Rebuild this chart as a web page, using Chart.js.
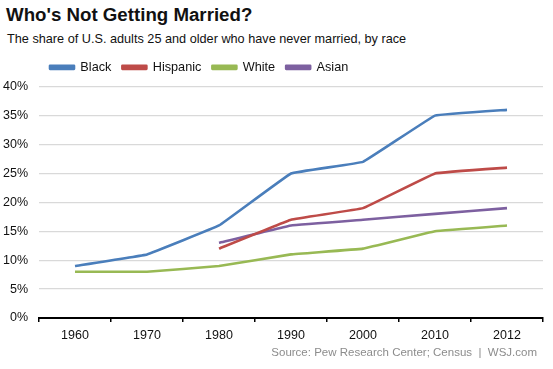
<!DOCTYPE html>
<html><head><meta charset="utf-8">
<script src="https://cdn.jsdelivr.net/npm/chart.js@4"></script>
<style>
html,body{margin:0;padding:0;background:#fff;}
#wrap{position:relative;width:553px;height:369px;overflow:hidden;font-family:"Liberation Sans",Arial,sans-serif;}
#title{position:absolute;left:6px;top:4px;font-size:18.7px;font-weight:bold;color:#111;white-space:nowrap;}
#sub{position:absolute;left:7px;top:32px;font-size:12.7px;color:#111;white-space:nowrap;}
#src{position:absolute;right:16px;top:346px;font-size:11.5px;color:#8c8c8c;white-space:nowrap;}
canvas{position:absolute;left:0;top:0;}
</style></head>
<body><div id="wrap">
<div id="title">Who's Not Getting Married?</div>
<div id="sub">The share of U.S. adults 25 and older who have never married, by race</div>
<canvas id="c" width="553" height="369"></canvas>
<div id="src">Source: Pew Research Center; Census &nbsp;|&nbsp; WSJ.com</div>
</div>
<script>
const years = ['1960','1970','1980','1990','2000','2010','2012'];
const black = [9, 11, 16, 25, 27, 35, 36];
const hispanic = [null, null, 12, 17, 19, 25, 26];
const white = [8, 8, 9, 11, 12, 15, 16];
const asian = [null, null, 13, 16, 17, 18, 19];
const seriesNames = ['Black','Hispanic','White','Asian'];
const colors = ['#4A7EBB','#BE4B48','#98B954','#7D60A0'];
const yTicks = [0,5,10,15,20,25,30,35,40];

const dataArrays = [black, hispanic, white, asian];
const ds = seriesNames.map((n,i)=>({
  label:n, data:dataArrays[i], borderColor:colors[i], backgroundColor:colors[i],
  borderWidth:2.6, pointRadius:0, tension:0.05, spanGaps:false,
  borderJoinStyle:'round', borderCapStyle:'butt'
}));

const legendGap = {
  id:'legendGap',
  afterInit(chart){
    const lg = chart.legend;
    if(!lg) return;
    const orig = lg.fit.bind(lg);
    lg.fit = function(){ orig(); this.height += 3; };
  }
};

new Chart(document.getElementById('c'), {
  type:'line',
  data:{labels:years, datasets:ds},
  plugins:[legendGap],
  options:{
    responsive:false, animation:false,
    layout:{padding:{left:0,right:10,top:50,bottom:22}},
    plugins:{
      tooltip:{enabled:false},
      legend:{position:'top', align:'start', fullSize:false,
        labels:{boxWidth:24, boxHeight:3, padding:11, color:'#111',
          font:{family:'"Liberation Sans", Arial, sans-serif', size:12.7}}}
    },
    scales:{
      x:{type:'category', offset:true,
        grid:{offset:true, drawOnChartArea:false, drawTicks:true, tickLength:4, color:'#000', lineWidth:1.5},
        border:{display:true, color:'#000', width:2},
        ticks:{color:'#111', padding:6, font:{family:'"Liberation Sans", Arial, sans-serif', size:12.5}},
        afterFit:(s)=>{s.height=29;}
      },
      y:{min:0, max:40,
        afterBuildTicks:(s)=>{s.ticks=yTicks.map(v=>({value:v}));},
        grid:{color:'#d9d9d9', lineWidth:1.2, drawTicks:false},
        border:{display:false},
        ticks:{color:'#111', padding:11, callback:v=>v+'%', font:{family:'"Liberation Sans", Arial, sans-serif', size:12.5}},
        afterFit:(s)=>{s.width=39;}
      }
    }
  }
});
</script>
</body></html>
